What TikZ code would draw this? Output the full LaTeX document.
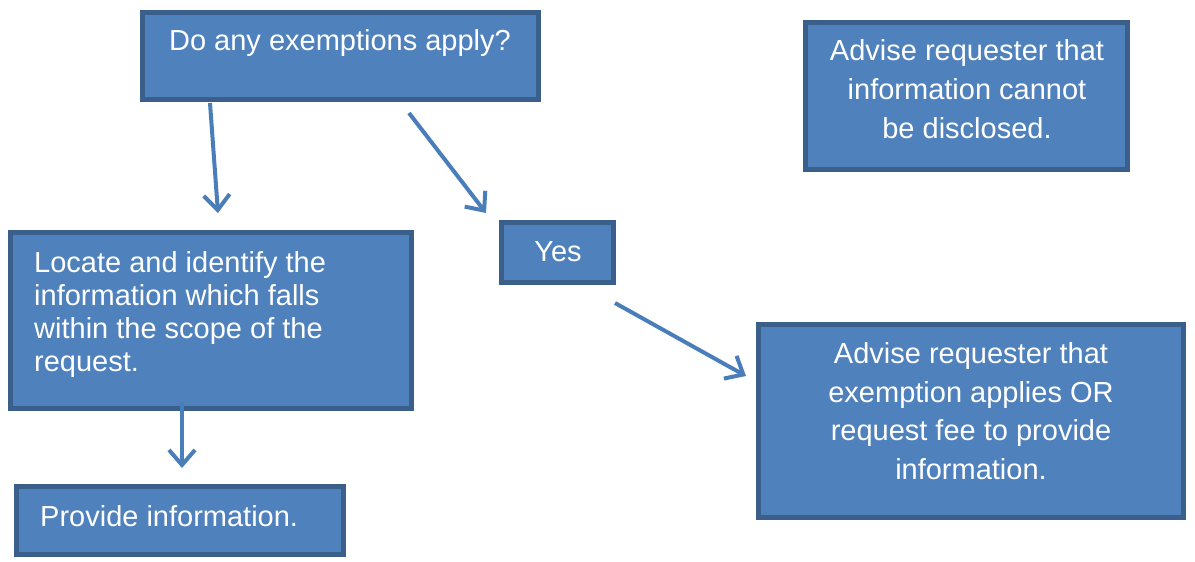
\documentclass[tikz,border=0pt]{standalone}
\usepackage{fontspec}
\setmainfont{Liberation Sans}
\usetikzlibrary{arrows.meta}
\definecolor{boxfill}{HTML}{4F81BD}
\definecolor{boxline}{HTML}{3A5F8B}
\definecolor{arrowc}{HTML}{4A7EBB}
\tikzset{
  box/.style={draw=boxline, fill=boxfill, line width=4.5pt, rectangle, inner sep=0pt},
  txt/.style={text=white, font=\fontsize{29}{38.7}\selectfont, inner sep=0pt},
  tighttxt/.style={text=white, font=\fontsize{29}{33}\selectfont, inner sep=0pt},
  conn/.style={draw=arrowc, line width=4pt, -{Straight Barb[length=15pt,width=26pt,line width=4pt]}}
}
\begin{document}
\begin{tikzpicture}[x=1pt,y=-1pt]
\useasboundingbox (0,0) rectangle (1195,562);
% boxes
\path[box] (142.5,12.5) rectangle (538.5,99.5);
\path[box] (805.5,22.5) rectangle (1127.5,169.5);
\path[box] (10.5,232.5) rectangle (411.5,408.5);
\path[box] (501.5,222.5) rectangle (613.5,282.5);
\path[box] (758.5,324.5) rectangle (1183.5,517.5);
\path[box] (16.5,486.5) rectangle (343.5,554.5);
% texts
\node[txt] (q) at (340,43) {Do any exemptions apply?};
\node[txt, align=center] (nodisc) at (967,89) {Advise requester that\\information cannot\\be disclosed.};
\node[tighttxt, align=left, anchor=west] (locate) at (34,314) {Locate and identify the\\information which falls\\within the scope of the\\request.};
\node[txt] (yes) at (558,252) {Yes};
\node[txt, align=center] (exempt) at (971,411) {Advise requester that\\exemption applies OR\\request fee to provide\\information.};
\node[txt, anchor=west] (provide) at (40,516) {Provide information.};
% connectors
\coordinate (a1s) at (210,103);
\coordinate (a1e) at (218,213);
\coordinate (a2s) at (409,113);
\coordinate (a2e) at (486,213);
\coordinate (a3s) at (615,303);
\coordinate (a3e) at (746,376);
\coordinate (a4s) at (182,402);
\coordinate (a4e) at (182,468);
\draw[conn] (a1s) -- (a1e);
\draw[conn] (a2s) -- (a2e);
\draw[conn] (a3s) -- (a3e);
\draw[conn] (a4s) -- (a4e);
\end{tikzpicture}
\end{document}
